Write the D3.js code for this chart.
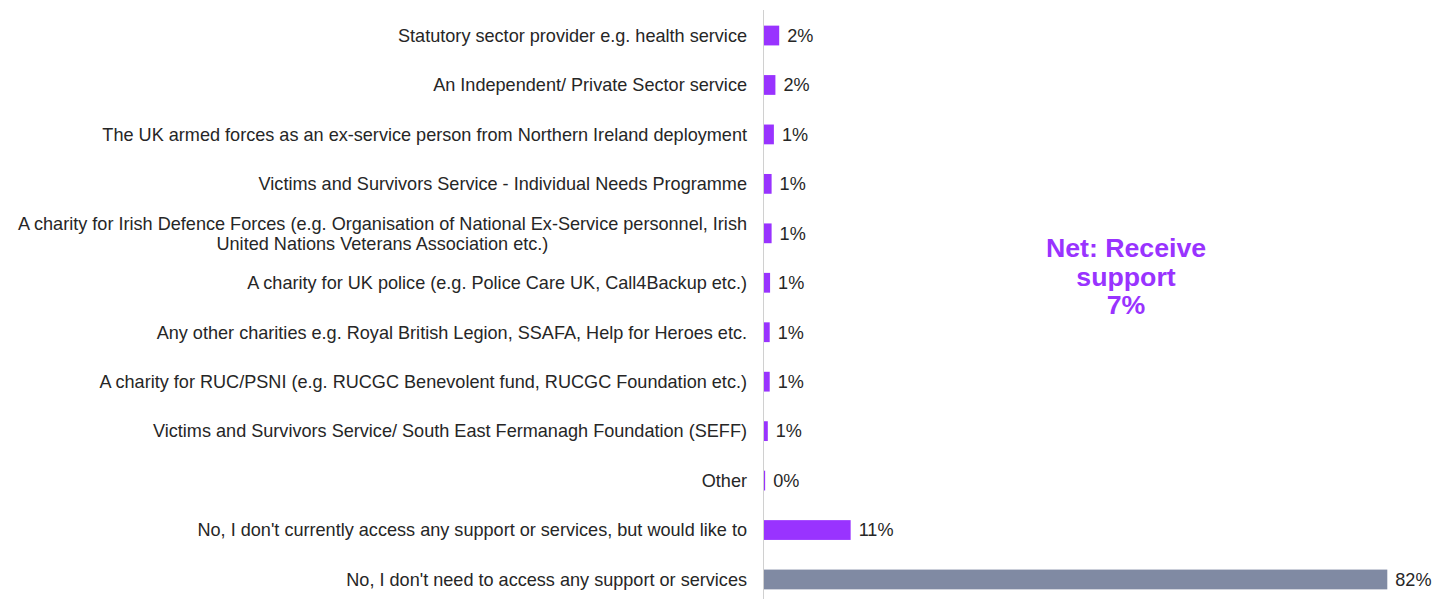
<!DOCTYPE html>
<html>
<head>
<meta charset="utf-8">
<script src="https://cdn.jsdelivr.net/npm/d3@7"></script>
<style>
  html, body { margin: 0; padding: 0; background: #ffffff; }
  svg { display: block; }
  text { font-family: "Liberation Sans", Arial, sans-serif; }
</style>
</head>
<body>
<svg id="chart" width="1443" height="599"></svg>
<script>
// Support sources used (percent of respondents)
const categories = [
  ["Statutory sector provider e.g. health service"],
  ["An Independent/ Private Sector service"],
  ["The UK armed forces as an ex-service person from Northern Ireland deployment"],
  ["Victims and Survivors Service - Individual Needs Programme"],
  ["A charity for Irish Defence Forces (e.g. Organisation of National Ex-Service personnel, Irish", "United Nations Veterans Association etc.)"],
  ["A charity for UK police (e.g. Police Care UK, Call4Backup etc.)"],
  ["Any other charities e.g. Royal British Legion, SSAFA, Help for Heroes etc."],
  ["A charity for RUC/PSNI (e.g. RUCGC Benevolent fund, RUCGC Foundation etc.)"],
  ["Victims and Survivors Service/ South East Fermanagh Foundation (SEFF)"],
  ["Other"],
  ["No, I don't currently access any support or services, but would like to"],
  ["No, I don't need to access any support or services"]
];
const values = [2.0, 1.5, 1.3, 1.0, 1.0, 0.8, 0.75, 0.75, 0.5, 0.15, 11.4, 82];
const barGroups = ["support", "support", "support", "support", "support", "support",
                   "support", "support", "support", "support", "support", "none"];
const netLabel = ["Net: Receive", "support", "7%"];

const colors = { support: "#9933ff", none: "#808aa3" };
const textColor = "#262626";

const svg = d3.select("#chart");
const x0 = 764;
const x = d3.scaleLinear().domain([0, 82]).range([x0, 1387.3]);
const y = d3.scaleBand()
  .domain(d3.range(categories.length))
  .range([10.8, 604.2])
  .paddingInner(0.6)
  .paddingOuter(0.3);

// bars
svg.append("g").selectAll("rect")
  .data(values)
  .join("rect")
  .attr("x", x(0))
  .attr("y", (d, i) => y(i))
  .attr("width", d => x(d) - x(0))
  .attr("height", y.bandwidth())
  .attr("fill", (d, i) => colors[barGroups[i]]);

// category axis line
svg.append("line")
  .attr("x1", x0 - 0.5).attr("x2", x0 - 0.5)
  .attr("y1", 10).attr("y2", 599)
  .attr("stroke", "#d0d0d0")
  .attr("stroke-width", 1);

// category labels (multi-line labels are centred within their block)
const labelRight = 747;
const lineH = 20;
const lg = svg.append("g").attr("fill", textColor).style("font-size", "18.1px");
categories.forEach((lines, i) => {
  const cy = y(i) + y.bandwidth() / 2;
  const t = lg.append("text")
    .attr("y", cy - (lines.length - 1) * lineH / 2);
  const spans = lines.map(s => t.append("tspan").text(s));
  const widths = spans.map(sp => sp.node().getComputedTextLength());
  const maxW = d3.max(widths);
  spans.forEach((sp, k) => {
    sp.attr("x", labelRight - maxW / 2)
      .attr("dy", k === 0 ? "0.35em" : lineH)
      .attr("text-anchor", "middle");
  });
});

// value labels
svg.append("g").attr("fill", textColor).style("font-size", "18.1px")
  .selectAll("text")
  .data(values)
  .join("text")
  .attr("x", d => x(d) + 8)
  .attr("y", (d, i) => y(i) + y.bandwidth() / 2)
  .attr("dy", "0.35em")
  .text(d => d3.format(".0f")(d) + "%");

// net annotation
svg.append("text")
  .attr("x", 1126)
  .attr("y", 248)
  .attr("text-anchor", "middle")
  .attr("fill", "#9933ff")
  .style("font-size", "26.7px")
  .style("font-weight", "bold")
  .selectAll("tspan")
  .data(netLabel)
  .join("tspan")
  .attr("x", 1126)
  .attr("dy", (d, i) => i === 0 ? "0.35em" : 28.5)
  .text(d => d);
</script>
</body>
</html>
